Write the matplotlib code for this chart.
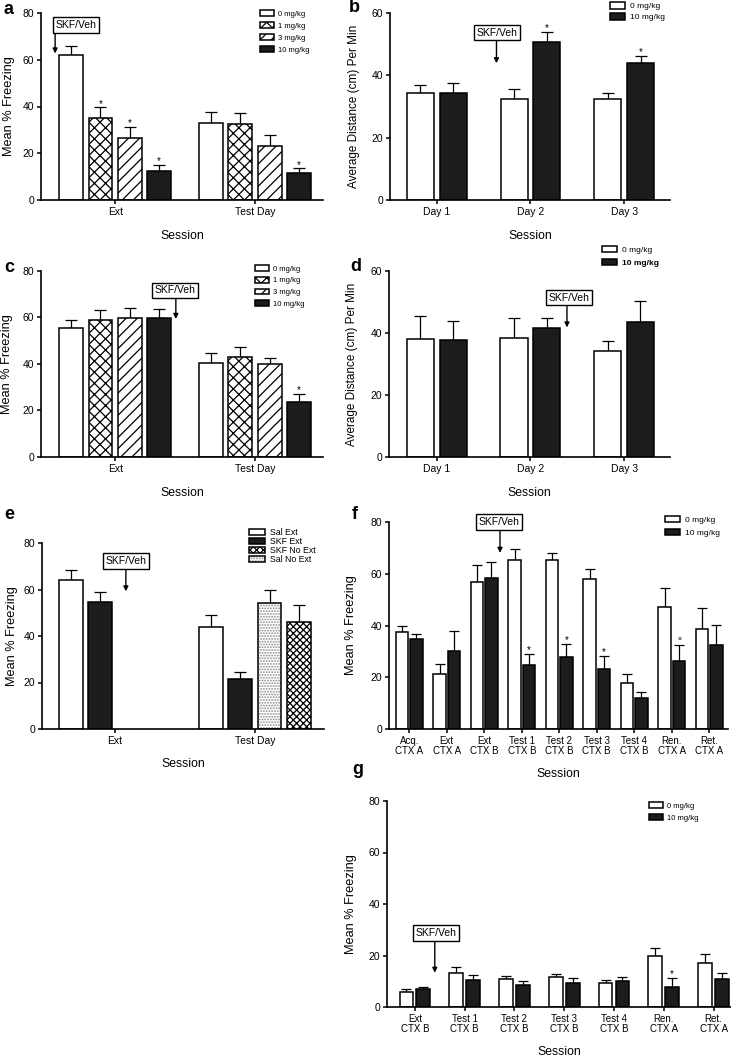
import matplotlib
matplotlib.use("Agg")
import matplotlib.pyplot as plt
import numpy as np

plt.rcParams["font.family"] = ["Liberation Sans", "DejaVu Sans"]
plt.rcParams["hatch.linewidth"] = 0.9

W, H = 731, 1057

# ---- data ----
a_sessions = ["Ext", "Test Day"]
a_groups = ["0 mg/kg", "1 mg/kg", "3 mg/kg", "10 mg/kg"]
a_mean = [[62.0, 33.1], [35.0, 32.6], [26.7, 22.9], [12.6, 11.4]]
a_sem = [[4.0, 4.5], [4.6, 4.5], [4.7, 4.7], [2.4, 2.2]]
a_mark = [["", ""], ["*", ""], ["*", ""], ["*", "*"]]

b_sessions = ["Day 1", "Day 2", "Day 3"]
b_groups = ["0 mg/kg", "10 mg/kg"]
b_mean = [[34.3, 32.5, 32.4], [34.3, 50.8, 44.1]]
b_sem = [[2.6, 3.1, 1.9], [3.2, 3.1, 2.2]]
b_mark = [["", "", ""], ["", "*", "*"]]

c_sessions = ["Ext", "Test Day"]
c_groups = ["0 mg/kg", "1 mg/kg", "3 mg/kg", "10 mg/kg"]
c_mean = [[55.3, 40.3], [59.0, 43.0], [59.6, 40.1], [59.9, 23.7]]
c_sem = [[3.6, 4.3], [4.1, 4.4], [4.3, 2.6], [3.7, 3.4]]
c_mark = [["", ""], ["", ""], ["", ""], ["", "*"]]

d_sessions = ["Day 1", "Day 2", "Day 3"]
d_groups = ["0 mg/kg", "10 mg/kg"]
d_mean = [[38.0, 38.3, 34.3], [37.7, 41.6, 43.6]]
d_sem = [[7.4, 6.4, 3.2], [6.2, 3.1, 6.7]]

e_sessions = ["Ext", "Test Day"]
e_groups = ["Sal Ext", "SKF Ext", "Sal No Ext", "SKF No Ext"]
e_mean = [[63.9, 43.9], [54.6, 21.6], [np.nan, 54.1], [np.nan, 46.1]]
e_sem = [[4.7, 5.2], [4.3, 3.0], [np.nan, 5.6], [np.nan, 7.2]]
e_legend_order = ["Sal Ext", "SKF Ext", "SKF No Ext", "Sal No Ext"]

f_sessions = ["Acq.\nCTX A", "Ext\nCTX A", "Ext\nCTX B", "Test 1\nCTX B", "Test 2\nCTX B",
              "Test 3\nCTX B", "Test 4\nCTX B", "Ren.\nCTX A", "Ret.\nCTX A"]
f_groups = ["0 mg/kg", "10 mg/kg"]
f_mean = [[37.5, 21.2, 57.0, 65.2, 65.2, 57.9, 17.9, 47.0, 38.6],
          [34.8, 30.2, 58.2, 24.9, 27.9, 23.0, 11.9, 26.1, 32.5]]
f_sem = [[2.2, 4.1, 6.4, 4.3, 2.9, 4.0, 3.4, 7.3, 8.0],
         [2.0, 7.6, 6.3, 4.1, 5.1, 5.4, 2.3, 6.5, 7.8]]
f_mark = [[""] * 9, ["", "", "", "*", "*", "*", "", "°", ""]]

g_sessions = ["Ext\nCTX B", "Test 1\nCTX B", "Test 2\nCTX B", "Test 3\nCTX B",
              "Test 4\nCTX B", "Ren.\nCTX A", "Ret.\nCTX A"]
g_groups = ["0 mg/kg", "10 mg/kg"]
g_mean = [[5.8, 13.3, 10.7, 11.7, 9.4, 19.8, 17.0],
          [7.0, 10.6, 8.7, 9.3, 10.1, 7.8, 11.0]]
g_sem = [[1.3, 2.1, 1.3, 1.0, 1.2, 3.1, 3.5],
         [0.6, 2.0, 1.3, 2.1, 1.6, 3.5, 2.3]]
g_mark = [[""] * 7, ["", "", "", "", "", "*", ""]]

DARK = "#1c1c1c"
STYLE = {
    "0 mg/kg": dict(fc="white"),
    "1 mg/kg": dict(fc="white", hatch="xxx"),
    "3 mg/kg": dict(fc="white", hatch="///"),
    "10 mg/kg": dict(fc=DARK),
    "Sal Ext": dict(fc="white"),
    "SKF Ext": dict(fc=DARK),
    "Sal No Ext": dict(fc="white", hatch="......", hc="#8c8c8c"),
    "SKF No Ext": dict(fc="white", hatch="xxxxx"),
}

fig = plt.figure(figsize=(W / 100, H / 100), dpi=100)


def axes_at(left, top, right, bottom):
    return fig.add_axes([left / W, 1 - bottom / H, (right - left) / W, (bottom - top) / H])


def bars(ax, groups, mean, sem, step, width, marks=None, cap=4.2):
    offs = (np.arange(len(groups)) - (len(groups) - 1) / 2) * step
    handles = {}
    for i, g in enumerate(groups):
        st = STYLE[g]
        m = np.asarray(mean[i], float)
        s = np.asarray(sem[i], float)
        x = np.arange(len(m)) + offs[i]
        ax.errorbar(x, m, yerr=[np.zeros_like(s), s], fmt="none", ecolor="black",
                    elinewidth=0.9, capsize=cap, capthick=0.9, zorder=1)
        if "hc" in st:
            h1 = ax.bar(x, m, width, color=st["fc"], edgecolor=st["hc"], hatch=st["hatch"],
                        lw=0, zorder=2)
            h2 = ax.bar(x, m, width, fill=False, edgecolor="black", lw=1.1, zorder=2)
            handles[g] = (h1, h2)
        else:
            handles[g] = ax.bar(x, m, width, color=st["fc"], edgecolor="black",
                                hatch=st.get("hatch"), lw=1.1, zorder=2)
        if marks:
            for xi, top, mk in zip(x, m + s, marks[i]):
                if mk:
                    ax.annotate(mk, (xi, top), xytext=(0, 2.5), textcoords="offset points",
                                ha="center", va="center", fontsize=7)
    return handles


def setup(ax, sessions, xlim, ymax, ystep, ylabel, ylab_x, xlab_y, fs_tick=7.5, fs_ylab=9.2):
    ax.set_xlim(*xlim)
    ax.set_ylim(0, ymax)
    ax.set_xticks(np.arange(len(sessions)))
    ax.set_xticklabels(sessions, fontsize=fs_tick, linespacing=1.0)
    ax.set_yticks(np.arange(0, ymax + 1, ystep))
    ax.tick_params(direction="out", length=3, width=1.1, labelsize=fs_tick, pad=2)
    ax.tick_params(axis="y", labelsize=7.5)
    for side in ("top", "right"):
        ax.spines[side].set_visible(False)
    for side in ("left", "bottom"):
        ax.spines[side].set_linewidth(1.2)
    ax.set_ylabel(ylabel, fontsize=fs_ylab)
    ax.yaxis.set_label_coords(ylab_x, 0.5)
    ax.set_xlabel("Session", fontsize=8.8)
    ax.xaxis.set_label_coords(0.5, xlab_y)


def skf_veh(ax, box_xy, arrow_x, arrow_tip):
    ax.text(box_xy[0], box_xy[1], "SKF/Veh", ha="center", va="center", fontsize=7.5, zorder=6,
            bbox=dict(boxstyle="square,pad=0.25", fc="white", ec="black", lw=1.0))
    ax.annotate("", xy=(arrow_x, arrow_tip), xytext=(arrow_x, box_xy[1]), zorder=5,
                arrowprops=dict(arrowstyle="-|>", color="black", lw=1.0, shrinkA=0, shrinkB=0,
                                mutation_scale=7), annotation_clip=False)


def legend(ax, handles, labels, x, y, fs, spacing, hh=0.8):
    return ax.legend(handles, labels, loc="upper left", bbox_to_anchor=(x, y), frameon=False,
                     fontsize=fs, handlelength=1.8, handleheight=hh, handletextpad=0.6,
                     labelspacing=spacing, borderpad=0, borderaxespad=0)


FREEZE = "Mean % Freezing"
DIST = "Average Distance (cm) Per Min"

# a
ax = axes_at(41, 13, 323, 200)
hd = bars(ax, a_groups, a_mean, a_sem, 0.21, 0.17, a_mark)
setup(ax, a_sessions, (-0.53, 1.486), 80, 20, FREEZE, -0.092, -0.16)
legend(ax, [hd[g] for g in a_groups], a_groups, 0.777, 1.016, 5.5, 0.6)
skf_veh(ax, (-0.279, 74.9), -0.429, 62.7)

# b
ax = axes_at(390, 13, 670, 200)
hd = bars(ax, b_groups, b_mean, b_sem, 0.35, 0.29, b_mark)
setup(ax, b_sessions, (-0.5, 2.49), 60, 20, DIST, -0.107, -0.16, fs_ylab=8.5)
legend(ax, [hd[g] for g in b_groups], b_groups, 0.786, 1.058, 6, 0.35)
skf_veh(ax, (0.646, 53.7), 0.637, 43.9)

# c
ax = axes_at(41, 271, 323, 457)
hd = bars(ax, c_groups, c_mean, c_sem, 0.21, 0.17, c_mark)
setup(ax, c_sessions, (-0.53, 1.486), 80, 20, FREEZE, -0.099, -0.161)
legend(ax, [hd[g] for g in c_groups], c_groups, 0.759, 1.032, 5.5, 0.55)
skf_veh(ax, (0.425, 71.7), 0.434, 59.4)

# d
ax = axes_at(389, 271, 670, 457)
hd = bars(ax, d_groups, d_mean, d_sem, 0.35, 0.29)
setup(ax, d_sessions, (-0.51, 2.49), 60, 20, DIST, -0.11, -0.161, fs_ylab=8.5)
leg = legend(ax, [hd[g] for g in d_groups], d_groups, 0.757, 1.134, 6, 0.55)
leg.get_texts()[1].set_fontweight("bold")
skf_veh(ax, (1.407, 51.4), 1.39, 41.8)

# e
ax = axes_at(42, 543, 324, 729)
hd = bars(ax, e_groups, e_mean, e_sem, 0.21, 0.17)
setup(ax, e_sessions, (-0.52, 1.494), 80, 20, FREEZE, -0.085, -0.155)
legend(ax, [hd[g] for g in e_legend_order], e_legend_order, 0.734, 1.08, 6.3, 0.0, hh=0.7)
skf_veh(ax, (0.081, 72.3), 0.079, 59.2)

# f
ax = axes_at(389, 522, 728, 729)
hd = bars(ax, f_groups, f_mean, f_sem, 0.385, 0.33, f_mark, cap=3.5)
setup(ax, f_sessions, (-0.54, 8.5), 80, 20, FREEZE, -0.094, -0.188, fs_tick=7)
legend(ax, [hd[g] for g in f_groups], f_groups, 0.814, 1.029, 6, 0.55)
skf_veh(ax, (2.40, 80.0), 2.42, 68.1)

# g
ax = axes_at(387, 801, 731, 1007)
hd = bars(ax, g_groups, g_mean, g_sem, 0.34, 0.275, g_mark, cap=3.5)
setup(ax, g_sessions, (-0.56, 6.35), 80, 20, FREEZE, -0.087, -0.189, fs_tick=7)
legend(ax, [hd[g] for g in g_groups], g_groups, 0.762, 0.995, 5.5, 0.6)
skf_veh(ax, (0.416, 28.7), 0.40, 13.3)

for letter, px, py in [("a", 4, 10), ("b", 349, 8), ("c", 4, 268), ("d", 350, 267),
                       ("e", 4, 515), ("f", 352, 515), ("g", 352, 770)]:
    fig.text(px / W, 1 - py / H, letter, fontsize=13, fontweight="bold", ha="left", va="center")

fig.savefig("out.png", dpi=100)
